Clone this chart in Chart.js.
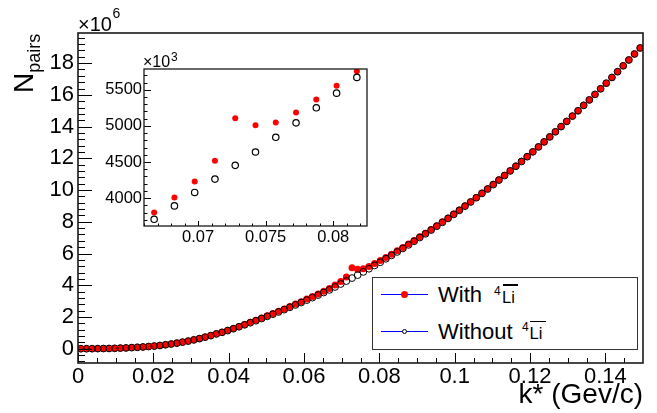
<!DOCTYPE html>
<html>
<head>
<meta charset="utf-8">
<title>k* distribution</title>
<script src="https://cdn.jsdelivr.net/npm/chart.js@4.4.1/dist/chart.umd.min.js"></script>
<style>
  html, body { margin: 0; padding: 0; background: #fff; }
  #page { position: relative; width: 657px; height: 413px; overflow: hidden;
          font-family: "Liberation Sans", Arial, sans-serif; color: #000; }
  #mainChart { position: absolute; left: 0; top: 0; }
  #insetBox { position: absolute; left: 100px; top: 45px; width: 280px; height: 210px; background: #fff; }
  #insetChart { position: absolute; left: 0; top: 0; }
  .txt { position: absolute; line-height: 1; white-space: nowrap; }
  .bar { position: absolute; height: 1.5px; background: #000; }
  #legend { position: absolute; left: 372px; top: 277px; width: 266px; height: 73px;
            box-sizing: border-box; border: 1.5px solid #333; background: #fff; }
  .lline { position: absolute; left: 381px; width: 47px; height: 1px; background: #0000ff; }
  .dot { position: absolute; border-radius: 50%; box-sizing: border-box; }
</style>
</head>
<body>
<div id="page">
  <canvas id="mainChart" width="657" height="413"></canvas>
  <div id="insetBox"><canvas id="insetChart" width="280" height="210"></canvas></div>

  <!-- axis multipliers -->
  <div class="txt" style="left:78px; top:14px; font-size:20px;">×10</div>
  <div class="txt" style="left:112.5px; top:5.5px; font-size:14px;">6</div>
  <div class="txt" style="left:143px; top:53.5px; font-size:16px;">×10</div>
  <div class="txt" style="left:171px; top:50.5px; font-size:12px;">3</div>

  <!-- axis titles -->
  <div class="txt" style="left:9.7px; top:93px; font-size:28px; transform:rotate(-90deg); transform-origin:0 0;">N<span style="font-size:18px; position:relative; top:7px;">pairs</span></div>
  <div class="txt" style="right:14px; top:380px; font-size:28px;">k* (Gev/c)</div>

  <!-- legend -->
  <div id="legend"></div>
  <div class="lline" style="top:294px;"></div>
  <div class="dot" style="left:401px; top:291px; width:7px; height:7px; background:#ff0000;"></div>
  <div class="txt" style="left:438px; top:283.9px; font-size:22px;">With</div>
  <div class="txt" style="left:494px; top:284.5px; font-size:12px;">4</div>
  <div class="txt" style="left:502px; top:288.5px; font-size:16.5px;">Li</div>
  <div class="bar" style="left:502.5px; top:284px; width:15.5px;"></div>

  <div class="lline" style="top:331px;"></div>
  <div class="dot" style="left:402px; top:329px; width:5px; height:5px; border:1px solid #000; background:#fff;"></div>
  <div class="txt" style="left:438px; top:320.7px; font-size:22px;">Without</div>
  <div class="txt" style="left:522px; top:321.2px; font-size:12px;">4</div>
  <div class="txt" style="left:529.5px; top:325.3px; font-size:16.5px;">Li</div>
  <div class="bar" style="left:530px; top:320.8px; width:15.5px;"></div>
</div>

<script>
// bin centres of k* (GeV/c)
const kStar = [
  0.00075, 0.00225, 0.00375, 0.00525, 0.00675, 0.00825, 0.00975, 0.01125, 0.01275, 0.01425,
  0.01575, 0.01725, 0.01875, 0.02025, 0.02175, 0.02325, 0.02475, 0.02625, 0.02775, 0.02925,
  0.03075, 0.03225, 0.03375, 0.03525, 0.03675, 0.03825, 0.03975, 0.04125, 0.04275, 0.04425,
  0.04575, 0.04725, 0.04875, 0.05025, 0.05175, 0.05325, 0.05475, 0.05625, 0.05775, 0.05925,
  0.06075, 0.06225, 0.06375, 0.06525, 0.06675, 0.06825, 0.06975, 0.07125, 0.07275, 0.07425,
  0.07575, 0.07725, 0.07875, 0.08025, 0.08175, 0.08325, 0.08475, 0.08625, 0.08775, 0.08925,
  0.09075, 0.09225, 0.09375, 0.09525, 0.09675, 0.09825, 0.09975, 0.10125, 0.10275, 0.10425,
  0.10575, 0.10725, 0.10875, 0.11025, 0.11175, 0.11325, 0.11475, 0.11625, 0.11775, 0.11925,
  0.12075, 0.12225, 0.12375, 0.12525, 0.12675, 0.12825, 0.12975, 0.13125, 0.13275, 0.13425,
  0.13575, 0.13725, 0.13875, 0.14025, 0.14175, 0.14325, 0.14475, 0.14625, 0.14775, 0.14925
];

// pair counts with the anti-4Li signal
const nWith = [
  200, 1300, 4000, 7100, 12000, 17000, 24000, 38000, 51000, 70000,
  90000, 112000, 139000, 170000, 207000, 250000, 300000, 355000, 417000, 486000,
  561000, 644000, 735000, 834000, 942000, 1046000, 1158000, 1277000, 1403000, 1530000,
  1663000, 1794000, 1931000, 2074000, 2213000, 2357000, 2506000, 2660000, 2812000, 2967000,
  3127000, 3288000, 3452000, 3620000, 3801000, 4010000, 4232000, 4518000, 5106000, 5008000,
  5046000, 5185000, 5365000, 5555000, 5755000, 5958000, 6168000, 6382000, 6601000, 6825000,
  7053000, 7283000, 7517000, 7755000, 7997000, 8244000, 8495000, 8749000, 9008000, 9271000,
  9537000, 9808000, 10083000, 10361000, 10644000, 10930000, 11220000, 11514000, 11812000, 12113000,
  12418000, 12728000, 13041000, 13357000, 13678000, 14003000, 14331000, 14663000, 14999000, 15339000,
  15683000, 16031000, 16383000, 16739000, 17099000, 17463000, 17831000, 18202000, 18578000, 18957000
];

// pair counts without the anti-4Li signal
const nWithout = [
  200, 1300, 4000, 7000, 12000, 17000, 24000, 38000, 51000, 69000,
  89000, 111000, 138000, 168000, 205000, 248000, 297000, 352000, 413000, 481000,
  555000, 637000, 727000, 825000, 931000, 1033000, 1143000, 1260000, 1384000, 1508000,
  1639000, 1767000, 1901000, 2041000, 2177000, 2317000, 2462000, 2612000, 2759000, 2910000,
  3065000, 3222000, 3382000, 3544000, 3708000, 3893000, 4079000, 4264000, 4454000, 4639000,
  4842000, 5042000, 5250000, 5453000, 5671000, 5885000, 6100000, 6320000, 6545000, 6775000,
  7009000, 7242000, 7480000, 7721000, 7966000, 8215000, 8468000, 8724000, 8985000, 9249000,
  9517000, 9789000, 10065000, 10344000, 10628000, 10915000, 11206000, 11501000, 11800000, 12102000,
  12408000, 12719000, 13033000, 13350000, 13672000, 13998000, 14327000, 14660000, 14997000, 15338000,
  15683000, 16031000, 16383000, 16739000, 17099000, 17463000, 17831000, 18202000, 18578000, 18957000
];

// labelled ticks
const mainXMajor = [0, 0.02, 0.04, 0.06, 0.08, 0.1, 0.12, 0.14];
const mainXLabels = ['0', '0.02', '0.04', '0.06', '0.08', '0.1', '0.12', '0.14'];
const mainYMajor = [0, 2e6, 4e6, 6e6, 8e6, 10e6, 12e6, 14e6, 16e6, 18e6];
const mainYLabels = ['0', '2', '4', '6', '8', '10', '12', '14', '16', '18'];
const insetXMajor = [0.07, 0.075, 0.08];
const insetXLabels = ['0.07', '0.075', '0.08'];
const insetYMajor = [4000e3, 4500e3, 5000e3, 5500e3];
const insetYLabels = ['4000', '4500', '5000', '5500'];

// axis ranges and minor tick spacing
const mainX = { min: 0, max: 0.15, minor: 0.005, major: mainXMajor, labels: mainXLabels };
const mainY = { min: -0.9e6, max: 19.9e6, minor: 0.4e6, major: mainYMajor, labels: mainYLabels };
const insetX = { min: 0.066, max: 0.0825, minor: 0.001, major: insetXMajor, labels: insetXLabels };
const insetY = { min: 3615e3, max: 5787e3, minor: 100e3, major: insetYMajor, labels: insetYLabels };

Chart.defaults.font.family = "'Liberation Sans', Arial, sans-serif";
Chart.defaults.color = '#000';

function majorIndex(v, ax) {
    const eps = (ax.max - ax.min) * 1e-6;
    return ax.major.findIndex(m => Math.abs(m - v) < eps);
}

// every minor tick position inside the axis range
function tickValues(ax) {
    const out = [];
    const first = Math.ceil(ax.min / ax.minor - 1e-9);
    const last = Math.floor(ax.max / ax.minor + 1e-9);
    for (let n = first; n <= last; n++) {
        out.push(+(n * ax.minor).toPrecision(10));
    }
    return out;
}

// ticks pointing into the frame, plus the frame box itself
function innerTicks(rx, ry, look) {
    return {
        id: 'innerTicks',
        afterDraw(chart) {
            const { ctx, chartArea: a } = chart;
            const xs = chart.scales.x, ys = chart.scales.y;
            ctx.save();
            ctx.strokeStyle = '#000';
            ctx.lineWidth = 1;
            ctx.beginPath();
            tickValues(rx).forEach(v => {
                const px = Math.round(xs.getPixelForValue(v)) + 0.5;
                if (px < a.left || px > a.right) return;
                const len = majorIndex(v, rx) >= 0 ? look.xLen : look.xLen / 2;
                ctx.moveTo(px, a.bottom);
                ctx.lineTo(px, a.bottom - len);
            });
            tickValues(ry).forEach(v => {
                const py = Math.round(ys.getPixelForValue(v)) + 0.5;
                if (py < a.top || py > a.bottom) return;
                const len = majorIndex(v, ry) >= 0 ? look.yLen : look.yLen / 2;
                ctx.moveTo(a.left, py);
                ctx.lineTo(a.left + len, py);
            });
            ctx.stroke();
            ctx.strokeStyle = look.frameColor;
            ctx.lineWidth = look.frame;
            ctx.strokeRect(a.left, a.top, a.right - a.left, a.bottom - a.top);
            ctx.restore();
        }
    };
}

function points(values) {
    return kStar.map((k, i) => ({ x: k, y: values[i] }));
}

function axisOptions(ax, look, isX) {
    return {
        type: 'linear',
        min: ax.min,
        max: ax.max,
        grid: { display: false, drawTicks: false },
        border: { display: false },
        afterBuildTicks: s => { s.ticks = tickValues(ax).map(v => ({ value: v })); },
        afterFit: s => {
            if (isX) s.height = look.xAxisH; else s.width = look.yAxisW;
        },
        ticks: {
            autoSkip: false,
            maxRotation: 0,
            minRotation: 0,
            padding: isX ? look.xPad : look.yPad,
            font: { size: look.font },
            callback: v => {
                const i = majorIndex(v, ax);
                return i >= 0 ? ax.labels[i] : '';
            }
        }
    };
}

function buildOptions(rx, ry, look) {
    return {
        responsive: false,
        devicePixelRatio: 1,
        animation: false,
        events: [],
        layout: { padding: { top: look.top, right: look.right, left: 0, bottom: 0 } },
        plugins: {
            legend: { display: false },
            tooltip: { enabled: false }
        },
        scales: {
            x: axisOptions(rx, look, true),
            y: axisOptions(ry, look, false)
        }
    };
}

const mainLook = {
    top: 33, right: 14, xAxisH: 50, yAxisW: 78,
    xPad: 1, yPad: 4, font: 22,
    xLen: 10, yLen: 14, frame: 1.6, frameColor: '#1a1a1a'
};

const insetLook = {
    top: 24, right: 13, xAxisH: 29, yAxisW: 44,
    xPad: 2, yPad: 2, font: 16.5,
    xLen: 5, yLen: 7, frame: 1.3, frameColor: '#1a1a1a'
};

// main distribution
new Chart(document.getElementById('mainChart'), {
    type: 'scatter',
    data: {
        datasets: [
            {
                label: 'Without',
                data: points(nWithout),
                pointRadius: 3.4,
                pointBackgroundColor: 'rgba(0,0,0,0)',
                pointBorderColor: '#000',
                pointBorderWidth: 1,
                order: 0
            },
            {
                label: 'With',
                data: points(nWith),
                pointRadius: 3.5,
                pointBackgroundColor: '#ff0000',
                pointBorderWidth: 0,
                order: 1
            }
        ]
    },
    options: buildOptions(mainX, mainY, mainLook),
    plugins: [innerTicks(mainX, mainY, mainLook)]
});

// zoom on the signal region
new Chart(document.getElementById('insetChart'), {
    type: 'scatter',
    data: {
        datasets: [
            {
                label: 'Without',
                data: points(nWithout),
                pointRadius: 3.2,
                pointBackgroundColor: 'rgba(0,0,0,0)',
                pointBorderColor: '#000',
                pointBorderWidth: 1.2,
                order: 0
            },
            {
                label: 'With',
                data: points(nWith),
                pointRadius: 3,
                pointBackgroundColor: '#ff0000',
                pointBorderWidth: 0,
                order: 1
            }
        ]
    },
    options: buildOptions(insetX, insetY, insetLook),
    plugins: [innerTicks(insetX, insetY, insetLook)]
});
</script>
</body>
</html>
